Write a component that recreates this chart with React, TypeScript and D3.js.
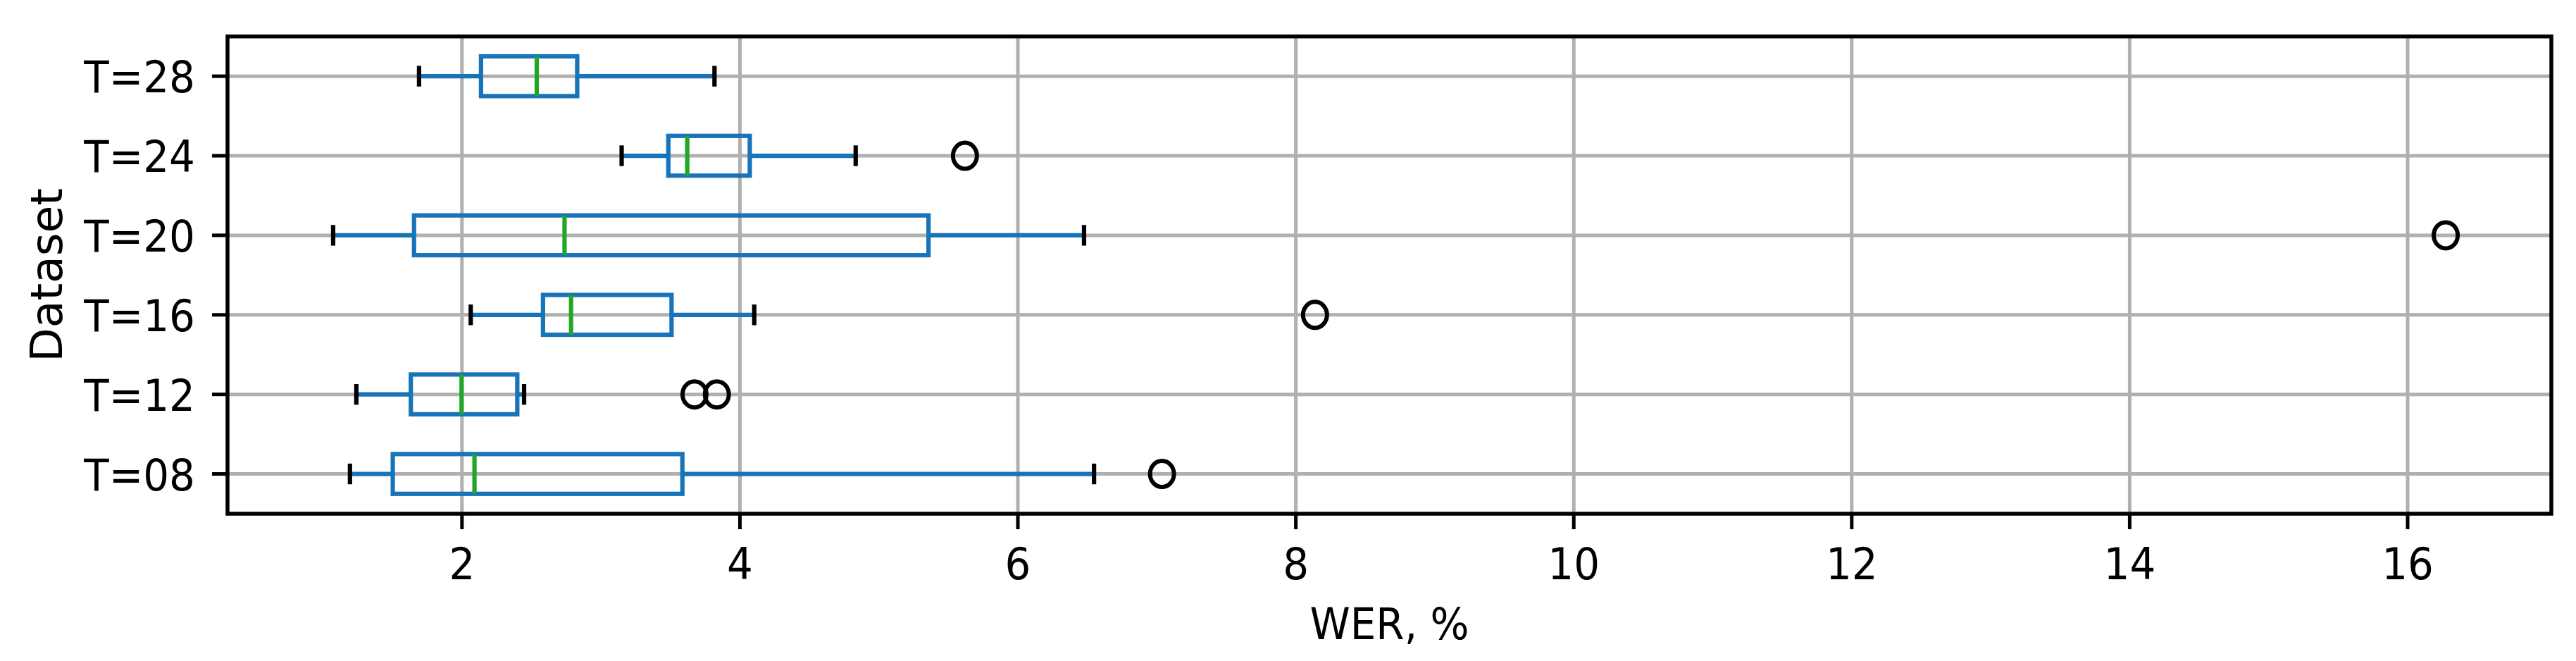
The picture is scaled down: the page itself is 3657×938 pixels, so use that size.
import React from "react";
import * as d3 from "d3";

const categories = ["T=08", "T=12", "T=16", "T=20", "T=24", "T=28"];
const whiskerLow = [1.194, 1.24, 2.063, 1.073, 3.149, 1.691];
const q1 = [1.502, 1.632, 2.583, 1.655, 3.485, 2.137];
const median = [2.09, 1.997, 2.785, 2.738, 3.621, 2.538];
const q3 = [3.586, 2.398, 3.508, 5.357, 4.071, 2.829];
const whiskerHigh = [6.548, 2.447, 4.103, 6.476, 4.833, 3.817];
const outliers: number[][] = [[7.037], [3.673, 3.834], [8.138], [16.274], [5.619], []];
const xTicks = [2, 4, 6, 8, 10, 12, 14, 16];
const xLabel = "WER, %";
const yLabel = "Dataset";

const W = 3657;
const H = 938;
const L = 323, R = 3622, T = 51.7, B = 729;
const FS = 63;
const SX = 0.92;
const BLUE = "#1874b8";
const GREEN = "#22a62a";
const GRID = "#b0b0b0";
const font = "'DejaVu Sans', sans-serif";

export default function App() {
  const x = d3.scaleLinear().domain([0.313, 17.034]).range([L, R]);
  const y = d3.scaleLinear().domain([0.5, 6.5]).range([B, T]);
  const pos = categories.map((_, i) => i + 1);
  const halfBox = y(0) - y(0.25);
  const halfCap = y(0) - y(0.13);
  const lw = 6.2;

  const text = (
    cx: number,
    cy: number,
    s: string,
    anchor: "start" | "middle" | "end",
    key: string
  ) => (
    <text
      key={key}
      x={0}
      y={0}
      transform={`translate(${cx},${cy}) scale(${SX},1)`}
      textAnchor={anchor}
      fontFamily={font}
      fontSize={FS}
      fill="#000"
    >
      {s}
    </text>
  );

  return (
    <svg
      width={W}
      height={H}
      style={{ position: "absolute", left: 0, top: 0, background: "#fff" }}
    >
      <rect x={0} y={0} width={W} height={H} fill="#fff" />
      {/* grid */}
      {xTicks.map((t) => (
        <line key={"gx" + t} x1={x(t)} x2={x(t)} y1={T} y2={B} stroke={GRID} strokeWidth={5} />
      ))}
      {pos.map((p) => (
        <line key={"gy" + p} x1={L} x2={R} y1={y(p)} y2={y(p)} stroke={GRID} strokeWidth={5} />
      ))}
      {/* boxes */}
      {pos.map((p, i) => {
        const cy = y(p);
        return (
          <g key={"b" + i}>
            <line x1={x(whiskerLow[i])} x2={x(q1[i])} y1={cy} y2={cy} stroke={BLUE} strokeWidth={lw} />
            <line x1={x(q3[i])} x2={x(whiskerHigh[i])} y1={cy} y2={cy} stroke={BLUE} strokeWidth={lw} />
            <rect
              x={x(q1[i])}
              y={cy - halfBox}
              width={x(q3[i]) - x(q1[i])}
              height={2 * halfBox}
              fill="none"
              stroke={BLUE}
              strokeWidth={lw}
            />
            <line x1={x(median[i])} x2={x(median[i])} y1={cy - halfBox} y2={cy + halfBox} stroke={GREEN} strokeWidth={lw} />
            <line x1={x(whiskerLow[i])} x2={x(whiskerLow[i])} y1={cy - halfCap} y2={cy + halfCap} stroke="#000" strokeWidth={lw} />
            <line x1={x(whiskerHigh[i])} x2={x(whiskerHigh[i])} y1={cy - halfCap} y2={cy + halfCap} stroke="#000" strokeWidth={lw} />
            {outliers[i].map((o, j) => (
              <ellipse key={j} cx={x(o)} cy={cy} rx={17} ry={18.5} fill="none" stroke="#000" strokeWidth={6} />
            ))}
          </g>
        );
      })}
      {/* spines */}
      <rect x={L} y={T} width={R - L} height={B - T} fill="none" stroke="#000" strokeWidth={5.5} />
      {/* x ticks */}
      {xTicks.map((t) => (
        <g key={"xt" + t}>
          <line x1={x(t)} x2={x(t)} y1={B} y2={B + 22} stroke="#000" strokeWidth={5} />
          {text(x(t), 822, String(t), "middle", "xl" + t)}
        </g>
      ))}
      {/* y ticks */}
      {pos.map((p, i) => (
        <g key={"yt" + p}>
          <line x1={L - 22} x2={L} y1={y(p)} y2={y(p)} stroke="#000" strokeWidth={5} />
          {text(277, y(p) + 23.3, categories[i], "end", "yl" + p)}
        </g>
      ))}
      {text((L + R) / 2, 906.7, xLabel, "middle", "xlab")}
      <text
        transform={`translate(88,${(T + B) / 2}) rotate(-90)`}
        textAnchor="middle"
        fontFamily={font}
        fontSize={FS}
        fill="#000"
      >
        {yLabel}
      </text>
    </svg>
  );
}
